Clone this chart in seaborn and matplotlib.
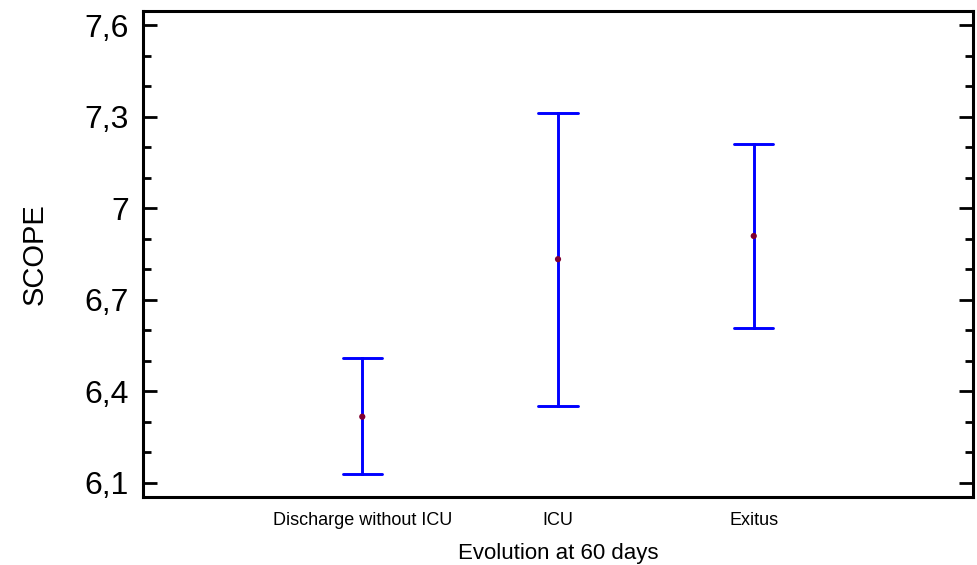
import matplotlib
matplotlib.use("Agg")
import matplotlib.pyplot as plt
import seaborn as sns
import pandas as pd
from matplotlib.ticker import MultipleLocator

# Data
categories = ["Discharge without ICU", "ICU", "Exitus"]
means = [6.317, 6.833, 6.909]
lower = [6.129, 6.352, 6.608]
upper = [6.508, 7.311, 7.210]
y_ticks = [6.1, 6.4, 6.7, 7.0, 7.3, 7.6]
y_tick_labels = ["6,1", "6,4", "6,7", "7", "7,3", "7,6"]

sns.set_style("ticks")
plt.rcParams["font.family"] = ["Liberation Sans", "DejaVu Sans"]
plt.rcParams["text.color"] = "black"
plt.rcParams["axes.labelcolor"] = "black"
plt.rcParams["xtick.color"] = "black"
plt.rcParams["ytick.color"] = "black"

rows = []
for c, lo, m, hi in zip(categories, lower, means, upper):
    for v in (lo, m, hi):
        rows.append({"cat": c, "value": v})
df = pd.DataFrame(rows)
df_means = pd.DataFrame({"cat": categories, "value": means})

fig = plt.figure(figsize=(9.77, 5.65), dpi=100)
ax = fig.add_axes([0.1464, 0.1204, 0.8495, 0.8601])

sns.pointplot(data=df, x="cat", y="value", order=categories,
              estimator="median", errorbar=lambda v: (v.min(), v.max()),
              color="#0000ff", linestyle="none", markers="",
              capsize=0.2, err_kws={"linewidth": 2.1, "color": "#0000ff"},
              ax=ax)
sns.scatterplot(data=df_means, x="cat", y="value", color="#800030",
                s=20, edgecolor="none", zorder=5, ax=ax, legend=False)

ax.set_xlim(-1.12, 3.12)
ax.set_ylim(6.054, 7.646)
ax.set_yticks(y_ticks)
ax.set_yticklabels(y_tick_labels, fontsize=23)
ax.yaxis.set_minor_locator(MultipleLocator(0.1))
ax.tick_params(axis="y", which="major", direction="in", length=10, width=2.0,
               left=True, right=True, pad=10)
ax.tick_params(axis="y", which="minor", direction="in", length=5.5, width=2.0,
               left=True, right=True)
ax.tick_params(axis="x", which="both", length=0, labelsize=13, pad=11)

for s in ax.spines.values():
    s.set_visible(True)
    s.set_linewidth(2.2)
    s.set_color("black")

ax.set_xlabel("Evolution at 60 days", fontsize=16, labelpad=10)
ax.set_ylabel("SCOPE", fontsize=21, labelpad=26)

fig.savefig("out.png", dpi=100)
